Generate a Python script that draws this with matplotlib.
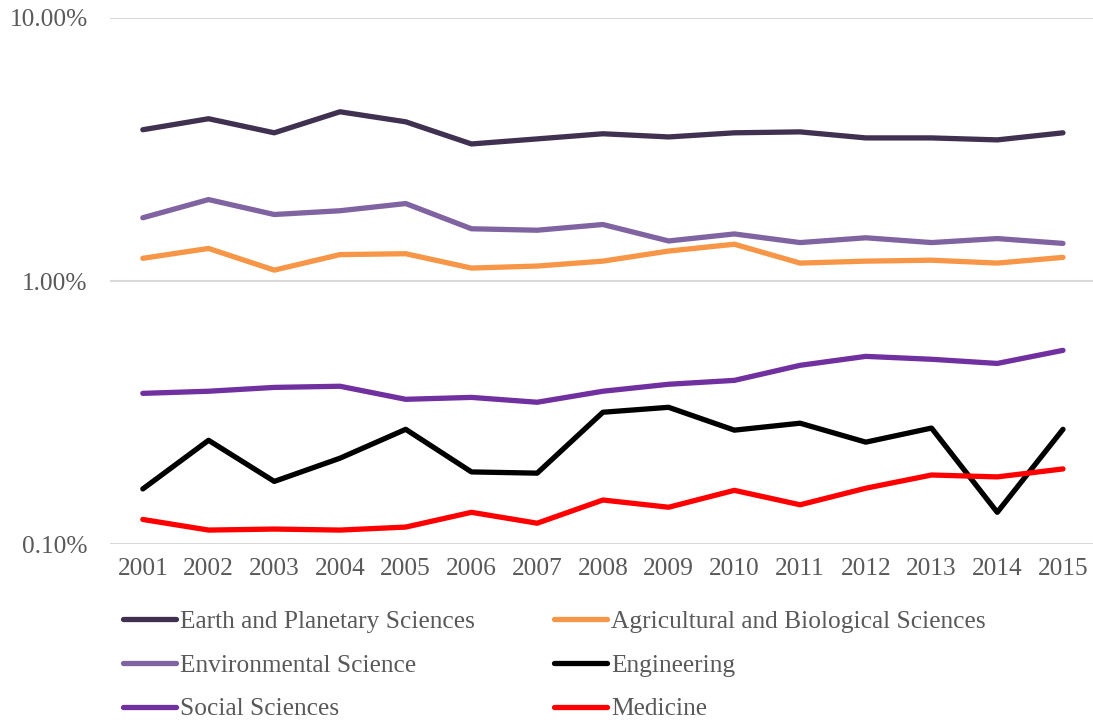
import numpy as np
import matplotlib.pyplot as plt
from matplotlib.ticker import FuncFormatter, FixedLocator

plt.rcParams['font.family'] = ['Liberation Serif', 'DejaVu Serif']

years = list(range(2001, 2016))

# shares in percent
earth = [3.76, 4.14, 3.66, 4.40, 4.03, 3.32, 3.47, 3.63, 3.53, 3.66, 3.69, 3.50, 3.50, 3.44, 3.66]
environ = [1.74, 2.04, 1.79, 1.85, 1.97, 1.58, 1.56, 1.64, 1.42, 1.51, 1.40, 1.46, 1.40, 1.45, 1.39]
agri = [1.22, 1.33, 1.10, 1.26, 1.27, 1.12, 1.14, 1.19, 1.30, 1.38, 1.17, 1.19, 1.20, 1.17, 1.23]
social = [0.374, 0.381, 0.394, 0.398, 0.355, 0.361, 0.346, 0.381, 0.405, 0.419, 0.478, 0.517, 0.504, 0.486, 0.545]
engin = [0.162, 0.248, 0.173, 0.212, 0.273, 0.188, 0.186, 0.317, 0.331, 0.271, 0.288, 0.244, 0.276, 0.132, 0.273]
medicine = [0.124, 0.113, 0.114, 0.113, 0.116, 0.132, 0.120, 0.147, 0.138, 0.160, 0.141, 0.163, 0.183, 0.180, 0.193]

series = [
    ("Earth and Planetary Sciences", earth, "#403151"),
    ("Environmental Science", environ, "#8064A2"),
    ("Social Sciences", social, "#7030A0"),
    ("Agricultural and Biological Sciences", agri, "#F79646"),
    ("Engineering", engin, "#000000"),
    ("Medicine", medicine, "#FF0000"),
]

grey = "#595959"
fs = 18.3

fig = plt.figure(figsize=(10.93, 7.2), dpi=100)
ax = fig.add_axes([0.1006, 0.2444, 0.902, 0.7306])

for name, vals, col in series:
    ax.plot(years, vals, color=col, lw=3.8, label=name, solid_capstyle='round', solid_joinstyle='round')

ax.set_yscale('log')
ax.set_ylim(0.1, 10)
ax.set_xlim(2000.5, 2015.5)
ax.yaxis.set_major_locator(FixedLocator([0.1, 1, 10]))
ax.yaxis.set_minor_locator(FixedLocator([]))
ax.yaxis.set_major_formatter(FuncFormatter(lambda v, p: f"{v:.2f}%"))
ax.set_xticks(years)
ax.set_xticklabels([str(y) for y in years])
ax.grid(axis='y', color='#d9d9d9', lw=1.5)
ax.set_axisbelow(True)
for s in ax.spines.values():
    s.set_visible(False)
ax.tick_params(length=0, labelsize=fs, colors=grey, pad=10)
ax.tick_params(axis='y', pad=16)

handles, labels = ax.get_legend_handles_labels()
leg = fig.legend(handles, labels, ncol=2, loc='upper left', bbox_to_anchor=(0.1125, 0.153),
                 frameon=False, fontsize=fs, handlelength=2.1, handletextpad=0.15,
                 columnspacing=3.1, labelspacing=0.83, borderaxespad=0, borderpad=0)
for t in leg.get_texts():
    t.set_color(grey)

fig.savefig("out.png", dpi=100)
